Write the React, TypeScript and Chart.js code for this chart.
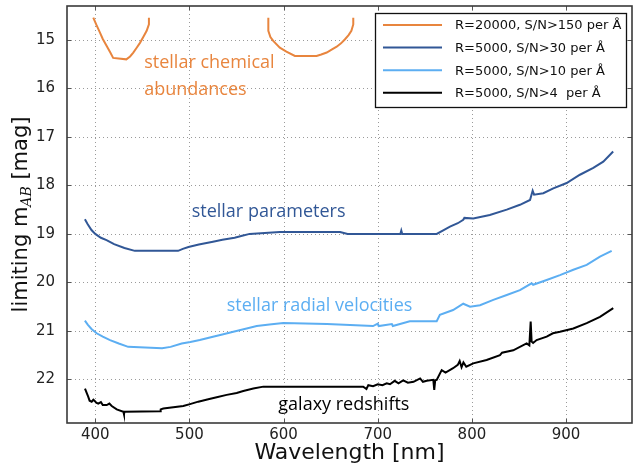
import React, { useEffect, useRef } from 'react';
import { Chart, registerables } from 'chart.js';
Chart.register(...registerables);

const xTicks = [400, 500, 600, 700, 800, 900];
const yTicks = [15, 16, 17, 18, 19, 20, 21, 22];

const seriesLabels = [
  'R=20000, S/N>150 per Å',
  'R=5000, S/N>30 per Å',
  'R=5000, S/N>10 per Å',
  'R=5000, S/N>4  per Å',
];

const chemWl = [397.9, 401, 405, 408, 412, 416, 419, 433, 437, 440.4, 444, 447.5, 451, 454.6, 457, 457, null,
  583.8, 583.8, 586, 589, 596, 603, 612, 635, 640, 645.8, 651, 656.4, 661, 665, 669, 672, 674, 674];
const chemMag = [14.54, 14.68, 14.85, 14.98, 15.12, 15.26, 15.37, 15.40, 15.34, 15.26, 15.16, 15.06, 14.94, 14.81, 14.68, 14.54, null,
  14.54, 14.81, 14.94, 15.02, 15.16, 15.24, 15.33, 15.33, 15.30, 15.26, 15.20, 15.14, 15.07, 14.99, 14.90, 14.81, 14.68, 14.54];

const paramWl = [389, 392, 396, 400, 406, 412, 420, 431, 442, 488, 493, 499, 510, 525, 535, 548, 556, 564, 580, 596,
  660, 668, 724, 725, 726, 762.6, 770, 776.7, 785, 790.8, 792, 801.4, 819, 837, 851, 861.7, 864.5, 866, 875.8, 886.4,
  900.6, 914.7, 928.9, 939.5, 950];
const paramMag = [18.70, 18.80, 18.92, 19.00, 19.08, 19.13, 19.21, 19.29, 19.35, 19.35, 19.31, 19.27, 19.22, 19.16, 19.12, 19.08, 19.04, 19.00, 18.98, 18.96,
  18.96, 19.00, 19.00, 18.93, 19.00, 19.00, 18.92, 18.85, 18.78, 18.71, 18.67, 18.68, 18.61, 18.50, 18.40, 18.30, 18.11, 18.19, 18.16, 18.06,
  17.95, 17.78, 17.64, 17.51, 17.30];

const rvWl = [389, 392, 396, 401.5, 408, 415.7, 425, 435, 471, 480, 491.8, 501, 511, 525, 536, 546.6, 560.8, 571.5, 585, 599.7,
  646, 695, 700, 701, 715, 716, 734, 762.6, 766, 780, 790.8, 798, 808.6, 822.7, 837, 851, 863.4, 865, 879.4, 893.5,
  907.7, 921.9, 936, 948.4];
const rvMag = [20.79, 20.87, 20.96, 21.05, 21.12, 21.19, 21.26, 21.33, 21.36, 21.33, 21.26, 21.23, 21.19, 21.12, 21.07, 21.02, 20.95, 20.90, 20.87, 20.84,
  20.86, 20.90, 20.85, 20.90, 20.86, 20.90, 20.80, 20.80, 20.67, 20.57, 20.44, 20.50, 20.47, 20.36, 20.26, 20.16, 20.02, 20.05, 19.95, 19.85,
  19.74, 19.64, 19.47, 19.35];

const galWl = [389.1, 392.6, 394, 396.2, 398, 399.7, 401, 403.2, 406, 408, 412.2, 415, 417.5, 422.8, 429.9, 430.5, 431, 468.8, 469.5, 472.3,
  493.5, 500.6, 509.4, 520, 529, 539.6, 550.2, 557.2, 567.8, 578.5, 684.6, 688, 690, 695, 700, 705, 709.5, 713, 718, 722,
  727, 732, 738, 745, 748, 752, 759, 760, 761, 762.6, 767.9, 772, 780, 785, 787, 789, 791, 794, 801.4, 815.6,
  829.8, 832, 843.9, 858.1, 861, 862.4, 863.4, 865, 868.7, 879.4, 886, 893.5, 907.7, 921.9, 936, 950.1];
const galMag = [22.19, 22.36, 22.44, 22.46, 22.42, 22.45, 22.48, 22.50, 22.47, 22.53, 22.53, 22.50, 22.55, 22.62, 22.67, 22.72, 22.67, 22.66, 22.62, 22.60,
  22.55, 22.51, 22.46, 22.41, 22.37, 22.32, 22.28, 22.24, 22.19, 22.15, 22.15, 22.20, 22.12, 22.14, 22.10, 22.12, 22.08, 22.10, 22.03, 22.08,
  22.02, 22.07, 22.05, 21.98, 22.05, 22.03, 22.01, 22.22, 22.02, 22.01, 21.81, 21.86, 21.77, 21.70, 21.62, 21.75, 21.65, 21.74, 21.67, 21.60,
  21.50, 21.45, 21.40, 21.26, 21.30, 20.81, 21.22, 21.25, 21.19, 21.12, 21.05, 21.02, 20.95, 20.84, 20.71, 20.53];

const annTexts = ['stellar chemical', 'abundances', 'stellar parameters', 'stellar radial velocities', 'galaxy redshifts'];
const annWl = [452, 452, 502.4, 539.6, 594.4];
const annMag = [15.58, 16.13, 18.65, 20.59, 22.63];

const ORANGE = '#E8853E';
const DBLUE = '#315796';
const LBLUE = '#5CAEF2';
const BLACK = '#000000';
const annColors = [ORANGE, ORANGE, DBLUE, LBLUE, BLACK];

const zip = (xs: (number | null)[], ys: (number | null)[]) => xs.map((x, i) => ({ x, y: ys[i] }));

const decorPlugin = {
  id: 'decor',
  beforeDatasetsDraw(chart: any) {
    const { ctx, chartArea: a, scales } = chart;
    ctx.save();
    ctx.strokeStyle = '#9a9a9a';
    ctx.lineWidth = 1;
    ctx.setLineDash([1, 3]);
    xTicks.forEach((v) => {
      const px = Math.round(scales.x.getPixelForValue(v)) + 0.5;
      ctx.beginPath(); ctx.moveTo(px, a.top); ctx.lineTo(px, a.bottom); ctx.stroke();
    });
    yTicks.forEach((v) => {
      const py = Math.round(scales.y.getPixelForValue(v)) + 0.5;
      ctx.beginPath(); ctx.moveTo(a.left, py); ctx.lineTo(a.right, py); ctx.stroke();
    });
    ctx.restore();
  },
  afterDatasetsDraw(chart: any) {
    const { ctx, chartArea: a, scales } = chart;
    ctx.save();
    ctx.strokeStyle = '#555';
    ctx.lineWidth = 1;
    xTicks.forEach((v) => {
      const px = Math.round(scales.x.getPixelForValue(v)) + 0.5;
      ctx.beginPath(); ctx.moveTo(px, a.bottom); ctx.lineTo(px, a.bottom - 4); ctx.stroke();
      ctx.beginPath(); ctx.moveTo(px, a.top); ctx.lineTo(px, a.top + 4); ctx.stroke();
    });
    yTicks.forEach((v) => {
      const py = Math.round(scales.y.getPixelForValue(v)) + 0.5;
      ctx.beginPath(); ctx.moveTo(a.left, py); ctx.lineTo(a.left + 4, py); ctx.stroke();
      ctx.beginPath(); ctx.moveTo(a.right, py); ctx.lineTo(a.right - 4, py); ctx.stroke();
    });
    ctx.strokeStyle = '#3a3a3a';
    ctx.lineWidth = 1.6;
    ctx.strokeRect(a.left, a.top, a.right - a.left, a.bottom - a.top);

    ctx.font = "18px 'Open Sans'";
    ctx.textAlign = 'left';
    ctx.textBaseline = 'alphabetic';
    annTexts.forEach((t, i) => {
      ctx.fillStyle = annColors[i];
      ctx.fillText(t, scales.x.getPixelForValue(annWl[i]), scales.y.getPixelForValue(annMag[i]));
    });

    const lx = 375, ly = 13, lw = 251, lh = 94;
    ctx.fillStyle = '#fff';
    ctx.fillRect(lx, ly, lw, lh);
    ctx.strokeStyle = '#111';
    ctx.lineWidth = 1.3;
    ctx.strokeRect(lx + 0.5, ly + 0.5, lw, lh);
    ctx.font = "13px 'DejaVu Sans'";
    ctx.textBaseline = 'middle';
    chart.data.datasets.forEach((ds: any, i: number) => {
      const yy = ly + 12 + i * 22.6;
      ctx.strokeStyle = ds.borderColor;
      ctx.lineWidth = 2;
      ctx.beginPath(); ctx.moveTo(383, yy); ctx.lineTo(442, yy); ctx.stroke();
      ctx.fillStyle = '#111';
      ctx.fillText(ds.label, 455, yy + 1);
    });

    ctx.fillStyle = '#111';
    ctx.font = "22px 'DejaVu Sans'";
    ctx.textAlign = 'center';
    ctx.textBaseline = 'alphabetic';
    ctx.fillText('Wavelength [nm]', (a.left + a.right) / 2, 459);

    ctx.translate(27, (a.top + a.bottom) / 2);
    ctx.rotate(-Math.PI / 2);
    const f1 = "21px 'DejaVu Sans'";
    const f2 = "italic 14px 'DejaVu Serif'";
    const p1 = 'limiting m', p2 = 'AB', p3 = ' [mag]';
    ctx.font = f1; const w1 = ctx.measureText(p1).width; const w3 = ctx.measureText(p3).width;
    ctx.font = f2; const w2 = ctx.measureText(p2).width;
    let sx = -(w1 + w2 + w3) / 2;
    ctx.textAlign = 'left';
    ctx.font = f1; ctx.fillText(p1, sx, 0); sx += w1;
    ctx.font = f2; ctx.fillText(p2, sx, 4); sx += w2;
    ctx.font = f1; ctx.fillText(p3, sx, 0);
    ctx.restore();
  },
};

export default function App() {
  const ref = useRef<HTMLCanvasElement>(null);
  useEffect(() => {
    if (!ref.current) return;
    const chart = new Chart(ref.current, {
      type: 'line',
      data: {
        datasets: [
          { label: seriesLabels[0], data: zip(chemWl, chemMag), borderColor: ORANGE, backgroundColor: ORANGE, borderWidth: 2 },
          { label: seriesLabels[1], data: zip(paramWl, paramMag), borderColor: DBLUE, backgroundColor: DBLUE, borderWidth: 2 },
          { label: seriesLabels[2], data: zip(rvWl, rvMag), borderColor: LBLUE, backgroundColor: LBLUE, borderWidth: 2 },
          { label: seriesLabels[3], data: zip(galWl, galMag), borderColor: BLACK, backgroundColor: BLACK, borderWidth: 2 },
        ] as any,
      },
      options: {
        animation: false,
        responsive: false,
        spanGaps: false,
        elements: { point: { radius: 0, hitRadius: 0 }, line: { tension: 0 } },
        layout: { padding: { left: 0, right: 3, top: 6, bottom: 0 } },
        plugins: { legend: { display: false }, tooltip: { enabled: false } },
        scales: {
          x: {
            type: 'linear',
            min: 370,
            max: 970,
            afterBuildTicks: (s: any) => { s.ticks = xTicks.map((v) => ({ value: v })); },
            afterFit: (s: any) => { s.height = 47; s.paddingLeft = 0; s.paddingRight = 0; },
            grid: { display: false, drawTicks: false },
            border: { display: false },
            ticks: { padding: 3, color: '#222', font: { family: "'DejaVu Sans'", size: 15 }, maxRotation: 0, callback: (v: any) => String(v) },
          },
          y: {
            type: 'linear',
            reverse: true,
            min: 14.3,
            max: 22.9,
            afterBuildTicks: (s: any) => { s.ticks = yTicks.map((v) => ({ value: v })); },
            afterFit: (s: any) => { s.width = 67; s.paddingTop = 0; s.paddingBottom = 0; },
            grid: { display: false, drawTicks: false },
            border: { display: false },
            ticks: { padding: 12, color: '#222', font: { family: "'DejaVu Sans'", size: 15 }, callback: (v: any) => String(v) },
          },
        },
      } as any,
      plugins: [decorPlugin],
    });
    return () => chart.destroy();
  }, []);
  return (
    <div style={{ position: 'fixed', left: 0, top: 0, width: 635, height: 470, background: '#fff' }}>
      <canvas ref={ref} width={635} height={470} style={{ display: 'block' }} />
    </div>
  );
}
